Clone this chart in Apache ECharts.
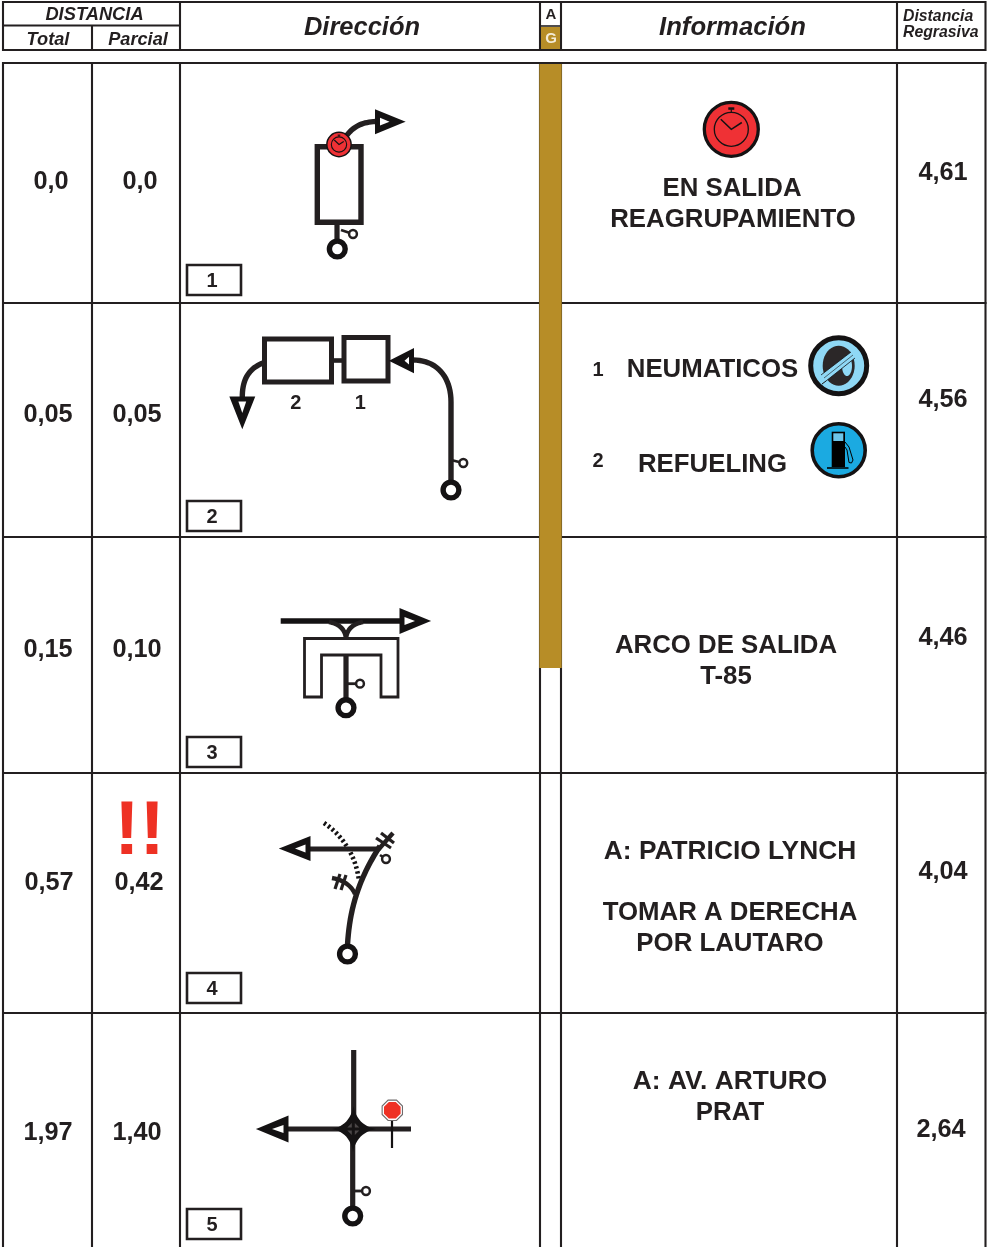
<!DOCTYPE html>
<html><head><meta charset="utf-8">
<style>html,body{margin:0;padding:0;background:#fff}#c{width:990px;height:1247px}</style>
<script src="https://cdn.jsdelivr.net/npm/echarts@6/dist/echarts.min.js"></script>
</head><body><div id="c"></div>
<script>
// ---- content read from the road book ----
const stepNumbers = ['1','2','3','4','5'];
const totalDistance = ['0,0','0,05','0,15','0,57','1,97'];
const partialDistance = ['0,0','0,05','0,10','0,42','1,40'];
const regressiveDistance = ['4,61','4,56','4,46','4,04','2,64'];
const infoRow1 = ['EN SALIDA','REAGRUPAMIENTO'];
const infoRow2 = ['NEUMATICOS','REFUELING'];
const infoRow3 = ['ARCO DE SALIDA','T-85'];
const infoRow4 = ['A: PATRICIO LYNCH','TOMAR A DERECHA','POR LAUTARO'];
const infoRow5 = ['A: AV. ARTURO','PRAT'];

// ---- layout of the sheet, in axis units ----
const INK='#231f20', DARK='#141213', RED='#ef3135', GOLD='#b78d27';
const FONT='"Liberation Sans", Arial, sans-serif';
const colX=[3,92,180,540,561,897,985.5];
const rowY=[63,303,537,773,1013,1247];
const shapes=[], texts=[];
const line=(pts,w,c=INK,extra={})=>shapes.push({k:'polyline',pts,w,c,...extra});
const poly=(pts,fill,w=0,c=INK)=>shapes.push({k:'polygon',pts,fill,w,c});
const disc=(x,y,r,fill,w=0,c=INK)=>shapes.push({k:'circle',x,y,r,fill,w,c});
const text=(s,x,y,size,o={})=>texts.push({s,x,y:y+(o.dy===undefined?1.6:o.dy),size,...o});
function bez(a,b,c,d,n=20){const r=[];for(let i=0;i<=n;i++){const t=i/n,u=1-t;
  r.push([u*u*u*a[0]+3*u*u*t*b[0]+3*u*t*t*c[0]+t*t*t*d[0],u*u*u*a[1]+3*u*u*t*b[1]+3*u*t*t*c[1]+t*t*t*d[1]]);}return r;}
function ell(x,y,rx,ry,n=40){const r=[];for(let i=0;i<n;i++){const a=i/n*2*Math.PI;r.push([x+rx*Math.cos(a),y+ry*Math.sin(a)]);}return r;}
function octagon(x,y,r){const o=[];for(let i=0;i<8;i++){const a=(i+.5)/8*2*Math.PI;o.push([x+r*Math.cos(a),y+r*Math.sin(a)]);}return o;}
function arrow(x,y,dx,dy,len=29,half=11){ // (x,y) = tip, (dx,dy) = unit direction of travel
  const px=-dy,py=dx;
  const P=(a,b)=>[x-dx*a+px*b,y-dy*a+py*b];
  poly([P(1.5,0),P(len-1.2,half-.3),P(len-1.2,-half+.3)],DARK,2.4,DARK);
  poly([P(14.5,0),P(len-5,3.9),P(len-5,-3.9)],'#fff');
}
function start(x,y){disc(x,y,7.9,'#fff',5.4,DARK);}
function note(x,y,x0,y0,w=2.8){line([[x0,y0],[x,y]],w);disc(x,y,3.9,'#fff',2.5,INK);}
function clock(x,y,k){
  disc(x,y,27*k,RED,3.3*k<1.2?1.5:3.3*k,DARK);
  disc(x,y,17*k,'none',Math.max(1.1,1.3*k),DARK);
  line([[x,y-17*k],[x,y-20*k]],1.2,DARK);
  poly([[x-3*k,y-22*k],[x+3*k,y-22*k],[x+3*k,y-19.5*k],[x-3*k,y-19.5*k]],DARK);
  line([[x-10.5*k,y-10*k],[x,y],[x+10.5*k,y-6.8*k]],Math.max(1.1,1.5*k),DARK);
}

// ---- table frame ----
const FR=2.1;
[[2],[50]].forEach(([y])=>line([[colX[0],y],[colX[6],y]],FR));
line([[colX[0],25.5],[colX[2]+1,25.5]],FR);
line([[colX[3],26],[colX[4]+1,26]],1.6);
[0,2,3,4,5,6].forEach(i=>line([[colX[i],1],[colX[i],51]],FR));
line([[colX[1],25],[colX[1],51]],FR);
poly([[541,27],[560,27],[560,49],[541,49]],GOLD);
rowY.slice(0,5).forEach(y=>line([[colX[0]-1,y],[colX[6]+1,y]],FR));
colX.forEach(x=>line([[x,62],[x,1247]],FR));
poly([[539.3,64],[561.7,64],[561.7,668],[539.3,668]],GOLD);
[265,501,737,973,1209].forEach(y=>poly([[187,y],[241,y],[241,y+30],[187,y+30]],'#fff',2.6,INK));

// ---- diagram 1 ----
poly([[317.3,146.8],[361,146.8],[361,222.3],[317.3,222.3]],'none',5.4);
line([[337,224],[337,243]],5.2);
start(337.3,249);
note(353,234,341,230);
line(bez([345,138],[352,127],[362,121.5],[378,121.5]),5.4);
arrow(404,121.7,1,0,29,11);
clock(339,144.5,0.45);

// ---- diagram 2 ----
poly([[264.5,339],[331.5,339],[331.5,382],[264.5,382]],'none',5);
poly([[344,337.5],[388,337.5],[388,381],[344,381]],'none',5);
line([[333,360.5],[342,360.5]],4.6);
line(bez([263,363],[250,368],[242,378],[242.3,398]),5.4);
arrow(242.3,427.5,0,1,31,11.5);
line([[451,481],[451,402],...bez([451,402],[451,376],[436,360],[413,360]).slice(1)],5.4);
arrow(390,360.7,-1,0,24,11);
start(451,490);
note(463.3,463,451,460);

// ---- diagram 3 ----
line([[280.7,621],[401,621]],5.6,DARK);
arrow(429.5,621,1,0,30,11.5);
line(bez([329,622],[340,624],[345,630],[346,638]),4.6);
line(bez([363,622],[352,624],[347,630],[346,638]),4.6);
poly([[304.5,697],[304.5,638.5],[398,638.5],[398,697],[381,697],[381,655],[321.5,655],[321.5,697]],'#fff',2.8);
line([[346,655],[346,700]],5.2);
start(346,707.7);
note(360,683.7,346,683.7);

// ---- diagram 4 ----
line(bez([324,823],[342,835],[356,855],[359,881]),4.6,DARK,{dash:[2.4,2.6]});
line(bez([347.5,945],[349.5,910],[358,880],[380,846]),5.4);
line([[310,849],[379,849]],5.2);
arrow(280.5,848.5,-1,0,30,11);
line([[378,850],[393,833]],4.4);
line([[376,838],[391,848]],3.2);
line([[381,833],[394,843]],3.2);
line(bez([355,894],[351,885],[343,880],[332,878]),4.4);
line([[335,889],[340,874]],3.2);
line([[341,890],[346,875]],3.2);
line([[380,855],[383,857]],2.6);
disc(386,859,3.9,'#fff',2.5,INK);
start(347.5,954);

// ---- diagram 5 ----
line([[353.7,1050],[353.7,1128]],5.2);
line([[288,1129],[411,1129]],5.2);
line([[352.7,1128],[352.7,1207]],5.2);
arrow(257.5,1129,-1,0,31,12);
{const c=[353.3,1129], T=[353.5,1106], R=[376,1129], B=[353,1152], L=[332,1129];
 const ctl=(p,s)=>[c[0]+(p[0]-c[0])*.45+(s[0]-c[0])*.1,c[1]+(p[1]-c[1])*.45+(s[1]-c[1])*.1];
 const seg=(a,b)=>bez(a,ctl(a,b),ctl(b,a),b,12);
 poly([...seg(T,R),...seg(R,B).slice(1),...seg(B,L).slice(1),...seg(L,T).slice(1,-1)],DARK);
 [[-1,-1],[1,-1],[1,1],[-1,1]].forEach(([a,b])=>poly([[c[0]+a*1.5,c[1]+b*1.5],[c[0]+a*6,c[1]+b*1.5],[c[0]+a*1.5,c[1]+b*6]],'#4a4647'));
}
line([[392,1120],[392,1148]],2.2,DARK);
poly(octagon(392.3,1110.3,11),'#fff',1.1,'#6e6a6b');
poly(octagon(392.3,1110.3,9),'#ee3124');
note(366,1191,353,1191,2.8);
start(352.7,1216);

// ---- information icons ----
clock(731.3,129.3,1);
// tyre
disc(838.7,365.7,28,'#8fd8f5',5,DARK);
poly(ell(838.7,365.7,16,20),'#2b2728');
poly(ell(847,366,5,10),'#8fd8f5');
poly([[821,375],[851,352],[855,358],[826,381]],'#8fd8f5');
line([[821,375],[851,352]],0.8,DARK);
line([[826,381],[855,358]],0.8,DARK);
line([[824,378],[853,355]],0.6,DARK);
line([[822,384],[826,381]],1,DARK);
// fuel pump
disc(838.7,450.3,26.5,'#1baae1',3.6,DARK);
poly([[831.7,431.7],[845,431.7],[845,467],[831.7,467]],'#000');
poly([[833.3,433.3],[843.3,433.3],[843.3,441],[833.3,441]],'#6cc5ea');
line([[827,468],[848.5,468]],1.6,'#000');
line([[845,442],[849,447],[853,460],[851.5,463],[849,462.5],[847,450],[845,447]],1,'#000');

// ---- texts ----
text('DISTANCIA',94.5,14,18.3,{italic:1,dy:0.5});
text('Total',48,39,18.2,{italic:1,dy:0.5});
text('Parcial',138,39,18.2,{italic:1,dy:0.5});
text('Dirección',362,27,25.5,{italic:1,dy:0.6});
text('A',551,14,15,{dy:0.5});
text('G',551,38.5,15,{color:'#f4ecd8',dy:0.5});
text('Información',732.5,27,25.7,{italic:1,dy:0.6});
text('Distancia',903,16,15.8,{italic:1,align:'left',dy:0.5});
text('Regrasiva',903,32,15.8,{italic:1,align:'left',dy:0.5});
stepNumbers.forEach((s,i)=>text(s,212,[280,516,752,988,1224][i],20));
const totalPos=[[51,180],[48,413],[48,648],[49,881],[48,1131]];
const partPos=[[140,180],[137,413],[137,648],[139,881],[137,1131]];
const regPos=[[943,171],[943,398],[943,636],[943,870],[941,1128]];
totalDistance.forEach((s,i)=>text(s,totalPos[i][0],totalPos[i][1],25.3));
partialDistance.forEach((s,i)=>text(s,partPos[i][0],partPos[i][1],25.3));
regressiveDistance.forEach((s,i)=>text(s,regPos[i][0],regPos[i][1],25.3));
const FS=25.8;
text(infoRow1[0],732,187,FS);text(infoRow1[1],733,218,FS);
text('1',598,369,20);text(infoRow2[0],712.5,368,FS);
text('2',598,460,20);text(infoRow2[1],712.5,463,FS);
text(infoRow3[0],726,644,FS);text(infoRow3[1],726,675,FS);
text(infoRow4[0],730,850,26.3);text(infoRow4[1],730,911,FS);text(infoRow4[2],730,942,FS);
text(infoRow5[0],730,1080,26.3);text(infoRow5[1],730,1111,FS);
text('2',295.7,401.5,20);text('1',360.3,401.5,20);
text('!!',139.5,833.5,76,{color:'#ee3124',dy:0});

// ---- chart ----
const chart=echarts.init(document.getElementById('c'),null,{width:990,height:1247});
chart.setOption({
  animation:false,
  backgroundColor:'#fff',
  grid:{left:0,right:0,top:0,bottom:0,containLabel:false},
  xAxis:{type:'value',min:0,max:990,show:false},
  yAxis:{type:'value',min:0,max:1247,inverse:true,show:false},
  tooltip:{show:false},
  series:[
    {type:'custom',silent:true,clip:false,coordinateSystem:'cartesian2d',
     data:shapes.map(()=>[0,0]),
     renderItem(params,api){
       const s=shapes[params.dataIndex];
       if(s.k==='circle'){const c=api.coord([s.x,s.y]);
         return {type:'circle',shape:{cx:c[0],cy:c[1],r:s.r},style:{fill:s.fill==='none'?null:s.fill,stroke:s.w?s.c:null,lineWidth:s.w}};}
       const points=s.pts.map(p=>api.coord(p));
       if(s.k==='polyline')
         return {type:'polyline',shape:{points},style:{fill:null,stroke:s.c,lineWidth:s.w,lineDash:s.dash||null,lineJoin:'miter',lineCap:'butt'}};
       return {type:'polygon',shape:{points},style:{fill:s.fill==='none'?null:s.fill,stroke:s.w?s.c:null,lineWidth:s.w,lineJoin:'miter'}};
     }},
    {type:'scatter',silent:true,clip:false,symbolSize:0,z:5,itemStyle:{opacity:1},
     data:texts.map(t=>({value:[t.x,t.y],label:{show:true,position:t.align==='left'?'right':'inside',distance:0,
        formatter:()=>t.s,fontFamily:FONT,fontWeight:'bold',fontStyle:t.italic?'italic':'normal',fontSize:t.size,
        color:t.color||INK,align:t.align||'center',verticalAlign:'middle'}}))}
  ]
});
</script></body></html>
